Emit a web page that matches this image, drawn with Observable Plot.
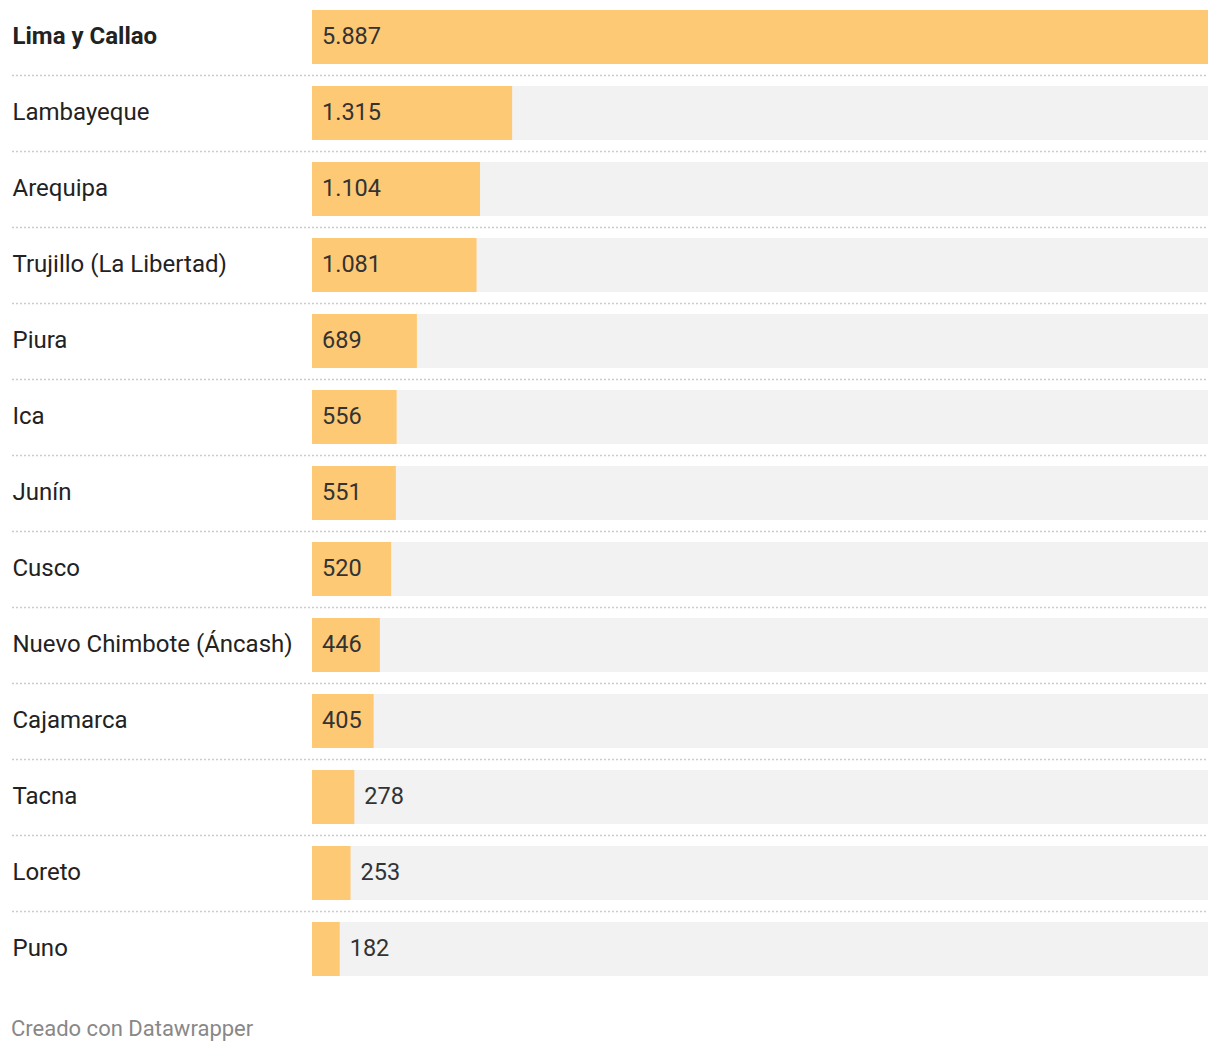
<!DOCTYPE html>
<html>
<head>
<meta charset="utf-8">
<script src="https://cdn.jsdelivr.net/npm/d3@7"></script>
<script src="https://cdn.jsdelivr.net/npm/@observablehq/plot@0.6"></script>
<style>
  body { margin: 0; background: #fff; font-family: Roboto, sans-serif; }
  #footer { font-family: Roboto, sans-serif; font-size: 22px; color: #888; margin: 26px 0 0 11px; line-height: 1.2; }
</style>
</head>
<body>
<div id="chart"></div>
<div id="footer">Creado con Datawrapper</div>
<script>
const regions = ["Lima y Callao", "Lambayeque", "Arequipa", "Trujillo (La Libertad)", "Piura", "Ica", "Junín", "Cusco", "Nuevo Chimbote (Áncash)", "Cajamarca", "Tacna", "Loreto", "Puno"];
const values = [5887, 1315, 1104, 1081, 689, 556, 551, 520, 446, 405, 278, 253, 182];
const highlighted = ["Lima y Callao"];

const data = regions.map((r, i) => ({region: r, value: values[i]}));
const maxV = d3.max(values);
const fmt = d3.formatLocale({decimal: ",", thousands: ".", grouping: [3], currency: ["", ""]}).format(",d");
const inside = d => d.value >= 400;

const chart = Plot.plot({
  width: 1220,
  height: 990,
  marginLeft: 312,
  marginRight: 12,
  marginTop: 10,
  marginBottom: 14,
  style: {fontFamily: "Roboto, sans-serif", fontSize: "23.5px", background: "#fff"},
  x: {domain: [0, maxV], axis: null},
  y: {domain: regions, axis: null, paddingInner: 22 / 76, paddingOuter: 0},
  marks: [
    Plot.ruleY(regions.slice(0, -1), {y: d => d, dy: 38, x1: 0, x2: maxV, stroke: "#cccccc", strokeDasharray: "2,2", strokeWidth: 1.3,
      render: (index, scales, values, dims, ctx, next) => {
        const g = next(index, scales, values, dims, ctx);
        d3.select(g).selectAll("line").attr("x1", 12);
        return g;
      }}),
    Plot.barX(data, {y: "region", x: () => maxV, fill: "#f2f2f2"}),
    Plot.barX(data, {y: "region", x: "value", fill: "#fec975"}),
    Plot.text(data.filter(d => !highlighted.includes(d.region)), {y: "region", text: "region", frameAnchor: "left", dx: -300, dy: -1, textAnchor: "start", fill: "#222", fontWeight: "normal", fontSize: 24}),
    Plot.text(data.filter(d => highlighted.includes(d.region)), {y: "region", text: "region", frameAnchor: "left", dx: -300, dy: -1, textAnchor: "start", fill: "#222", fontWeight: "bold", fontSize: 24}),
    Plot.text(data, {y: "region", x: d => inside(d) ? 0 : d.value, text: d => fmt(d.value), dx: 9.5, dy: -1, textAnchor: "start", fill: "#333"})
  ]
});
document.getElementById("chart").appendChild(chart);
</script>
</body>
</html>
